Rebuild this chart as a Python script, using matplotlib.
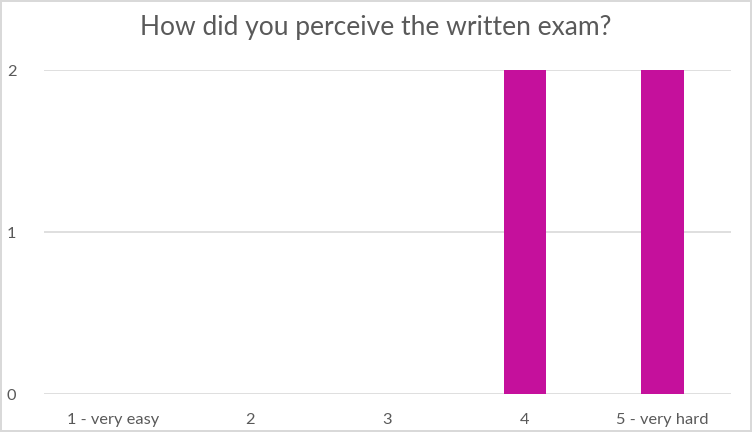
import numpy as np
import matplotlib
matplotlib.use("Agg")
import matplotlib.pyplot as plt

categories = ["1 - very easy", "2", "3", "4", "5 - very hard"]
counts = [0, 0, 0, 2, 2]
yticks = [0, 1, 2]

plt.rcParams['font.family'] = ['Lato', 'DejaVu Sans']

fig = plt.figure(figsize=(7.52, 4.32), dpi=100)
fig.patch.set_edgecolor('#D9D9D9')
fig.patch.set_linewidth(1.5)
ax = fig.add_axes([44/752, 1-394/432, 687/752, 324/432])

x = np.arange(len(categories))
ax.bar(x, counts, width=0.31, color='#C5109C', zorder=3)

ax.set_xlim(-0.5, len(categories)-0.5)
ax.set_ylim(0, 2)
ax.set_yticks(yticks)
ax.set_xticks(x)
ax.set_xticklabels(categories)
ax.grid(axis='y', color='#D9D9D9', linewidth=1.2, zorder=0)
for s in ax.spines.values():
    s.set_visible(False)
ax.tick_params(length=0, colors='#595959', labelsize=11.8)
ax.tick_params(axis='y', pad=20)
ax.tick_params(axis='x', pad=14)

fig.text(0.5, 1-28/432, "How did you perceive the written exam?", ha='center', va='center',
         fontsize=19, color='#595959')

fig.savefig("out.png", dpi=100)
